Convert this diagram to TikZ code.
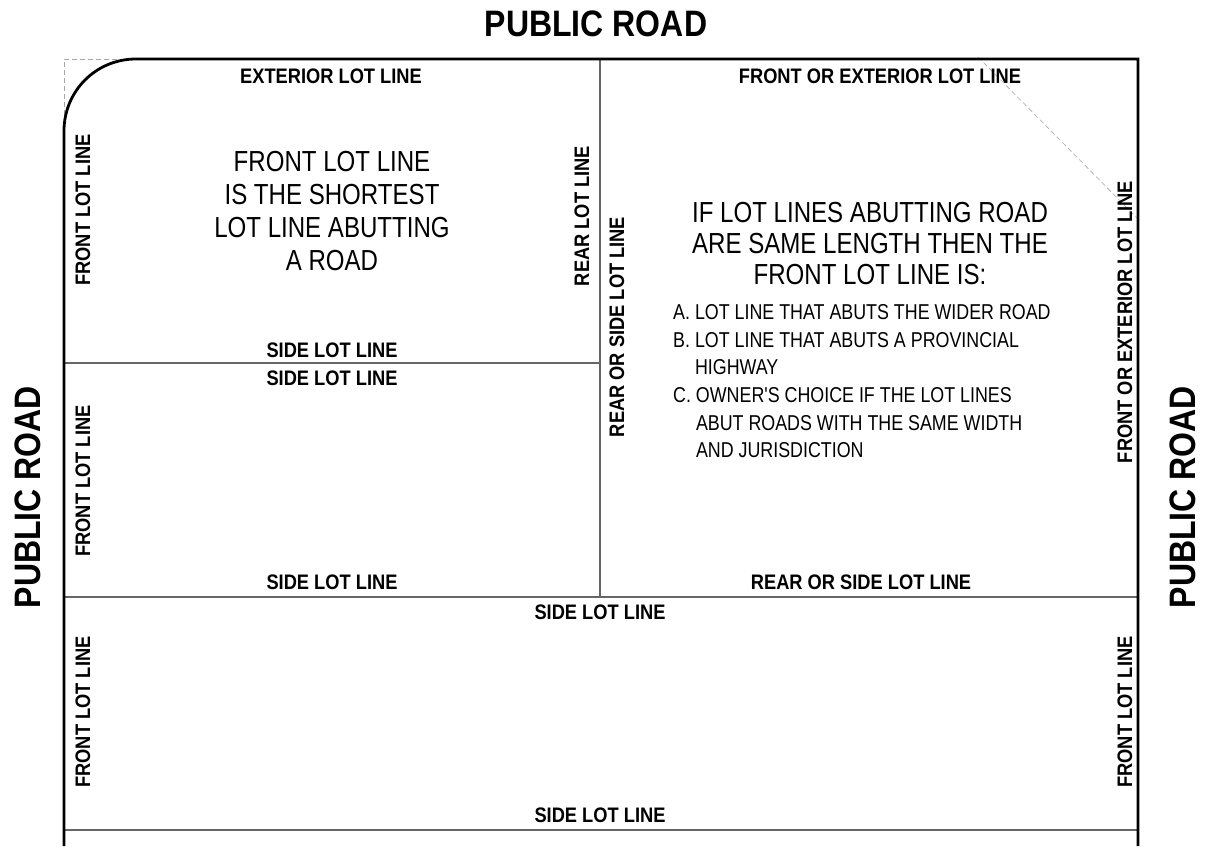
\documentclass[tikz,border=0pt]{standalone}
\usepackage{fontspec}
\setmainfont{Liberation Sans}
\newfontfamily\lblfont[FakeStretch=0.87]{Liberation Sans}
\newfontfamily\bodyfont[FakeStretch=0.83]{Liberation Sans}
\begin{document}
\begin{tikzpicture}[x=1pt,y=-1pt,
  border/.style={line width=2.8pt,black},
  lotline/.style={line width=1.3pt,black!60},
  guide/.style={line width=0.6pt,black!35,dash pattern=on 5pt off 3pt},
  lbl/.style={inner sep=0pt,font=\lblfont\bfseries\fontsize{21}{21}\selectfont},
  road/.style={inner sep=0pt,font=\lblfont\bfseries\fontsize{36.8}{36.8}\selectfont},
  body/.style={inner sep=0pt,font=\bodyfont\fontsize{29}{33}\selectfont,align=center},
  listtext/.style={inner sep=0pt,font=\bodyfont\fontsize{21.5}{27.6}\selectfont,align=left}]
\useasboundingbox (0,0) rectangle (1215,846);
% frame points
\coordinate (tl) at (64,59);
\coordinate (arcS) at (64,131);
\coordinate (arcE) at (136,59);
\coordinate (tr) at (1138,59);
\coordinate (bl) at (64,846);
\coordinate (br) at (1138,846);
\coordinate (mt) at (600,59);
\coordinate (mm) at (600,363);
\coordinate (ml) at (64,363);
\coordinate (sl) at (64,597);
\coordinate (sm) at (600,597);
\coordinate (sr) at (1138,597);
\coordinate (bl2) at (64,830);
\coordinate (br2) at (1138,830);
\coordinate (dg1) at (978,57);
\coordinate (dg2) at (1138,219);
% guides
\draw[guide] (arcS) -- (tl) -- (arcE);
\draw[guide] (dg1) -- (dg2);
% lot lines
\draw[lotline] (mt) -- (sm);
\draw[lotline] (ml) -- (mm);
\draw[lotline] (sl) -- (sr);
\draw[lotline] (bl2) -- (br2);
% road boundary
\draw[border] (bl) -- (arcS) .. controls (64,91) and (96,59) .. (arcE) -- (tr) -- (br);
% roads
\node[road] (roadT) at (596,24) {PUBLIC ROAD};
\node[road,rotate=90] (roadL) at (28,497) {PUBLIC ROAD};
\node[road,rotate=90] (roadR) at (1183,497) {PUBLIC ROAD};
% top left lot
\node[lbl] (extT) at (331,76) {EXTERIOR LOT LINE};
\node[lbl,rotate=90] (frontA) at (83,210) {FRONT LOT LINE};
\node[lbl,rotate=90] (rearA) at (582,216) {REAR LOT LINE};
\node[lbl] (sideA) at (332,350) {SIDE LOT LINE};
\node[body] (noteA) at (332,211.5) {FRONT LOT LINE\\IS THE SHORTEST\\LOT LINE ABUTTING\\A ROAD};
% middle left lot
\node[lbl] (sideB1) at (332,378) {SIDE LOT LINE};
\node[lbl,rotate=90] (frontB) at (83,481) {FRONT LOT LINE};
\node[lbl] (sideB2) at (332,582) {SIDE LOT LINE};
% right lot
\node[lbl] (frontExtT) at (880,76) {FRONT OR EXTERIOR LOT LINE};
\node[lbl,rotate=90] (rearSideC) at (617,327) {REAR OR SIDE LOT LINE};
\node[lbl,rotate=90] (frontExtR) at (1125,322) {FRONT OR EXTERIOR LOT LINE};
\node[lbl] (rearSideB) at (861,582) {REAR OR SIDE LOT LINE};
\node[body,font=\bodyfont\fontsize{29}{31}\selectfont] (noteC) at (870,244) {IF LOT LINES ABUTTING ROAD\\ARE SAME LENGTH THEN THE\\FRONT LOT LINE IS:};
\node[listtext,anchor=north west] (listC) at (673,304.5) {A. LOT LINE THAT ABUTS THE WIDER ROAD\\B. LOT LINE THAT ABUTS A PROVINCIAL\\\phantom{B. }HIGHWAY\\C. OWNER'S CHOICE IF THE LOT LINES\\\phantom{C. }ABUT ROADS WITH THE SAME WIDTH\\\phantom{C. }AND JURISDICTION};
% bottom lot
\node[lbl] (sideD1) at (600,612) {SIDE LOT LINE};
\node[lbl,rotate=90] (frontD1) at (83,712) {FRONT LOT LINE};
\node[lbl,rotate=90] (frontD2) at (1125,712) {FRONT LOT LINE};
\node[lbl] (sideD2) at (600,815) {SIDE LOT LINE};
\end{tikzpicture}
\end{document}
